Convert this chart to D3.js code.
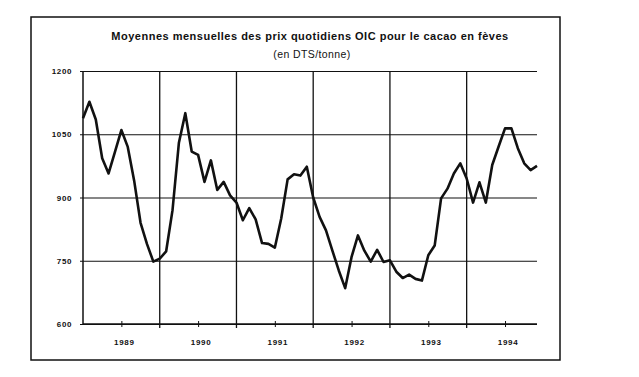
<!DOCTYPE html>
<html>
<head>
<meta charset="utf-8">
<script src="https://cdn.jsdelivr.net/npm/d3@7"></script>
<style>
  body { margin: 0; background: #fff; }
  svg text { font-family: "Liberation Sans", Arial, sans-serif; fill: #111; }
  .axis path { display: none; }
  .axis line { stroke: #111; }
</style>
</head>
<body>
<svg id="chart"></svg>
<script>
// values (DTS/tonne, monthly)
const yearLabels = ['1989', '1990', '1991', '1992', '1993', '1994'];
const prices1989 = [1088, 1127, 1085, 993, 957, 1008, 1060, 1020, 940, 840, 790, 748];
const prices1990 = [755, 772, 870, 1030, 1100, 1009, 1001, 937, 988, 918, 937, 905];
const prices1991 = [888, 846, 875, 848, 792, 790, 781, 850, 943, 955, 952, 973];
const prices1992 = [900, 854, 822, 774, 727, 685, 759, 810, 774, 748, 776, 747];
const prices1993 = [751, 724, 709, 717, 707, 703, 763, 786, 898, 921, 957, 981];
const prices1994 = [945, 888, 936, 888, 977, 1021, 1064, 1064, 1017, 981, 965, 975];
const yTickValues = [600, 750, 900, 1050, 1200];
const titleText = 'Moyennes mensuelles des prix quotidiens OIC pour le cacao en fèves';
const subtitleText = '(en DTS/tonne)';

const prices = [].concat(prices1989, prices1990, prices1991, prices1992, prices1993, prices1994);

const config = {
  width: 639,
  height: 377,
  margin: {top: 71, right: 102, bottom: 53, left: 83}
};
const innerW = config.width - config.margin.left - config.margin.right;
const innerH = config.height - config.margin.top - config.margin.bottom;

const svg = d3.select('#chart')
    .attr('width', config.width)
    .attr('height', config.height);

// outer frame
svg.append('rect')
    .attr('x', 31)
    .attr('y', 17)
    .attr('width', 529)
    .attr('height', 343)
    .attr('fill', 'none')
    .attr('stroke', '#111')
    .attr('stroke-width', 1.5);

// titles
svg.append('text')
    .attr('x', 310)
    .attr('y', 39.5)
    .attr('text-anchor', 'middle')
    .style('font-size', '11px')
    .style('font-weight', 'bold')
    .style('letter-spacing', '0.5px')
    .text(titleText);

svg.append('text')
    .attr('x', 312)
    .attr('y', 58)
    .attr('text-anchor', 'middle')
    .style('font-size', '10.5px')
    .style('letter-spacing', '0.4px')
    .text(subtitleText);

const chart = svg.append('g')
    .attr('transform', `translate(${config.margin.left},${config.margin.top})`);

const xScale = d3.scaleLinear()
    .domain([0, prices.length - 1])
    .range([0, innerW]);

const yScale = d3.scaleLinear()
    .domain([600, 1200])
    .range([innerH, 0]);

// horizontal gridlines
chart.append('g')
    .attr('class', 'axis grid-y')
    .call(d3.axisLeft(yScale).tickValues(yTickValues).tickSize(-innerW).tickFormat(''))
    .selectAll('line')
    .attr('stroke-width', 1.2);

// year separators (extend a bit under the axis)
const yearStarts = d3.range(1, yearLabels.length).map(k => k * 12);
chart.append('g')
    .selectAll('line')
    .data(yearStarts)
    .join('line')
    .attr('x1', d => xScale(d))
    .attr('x2', d => xScale(d))
    .attr('y1', 0)
    .attr('y2', innerH + 4)
    .attr('stroke', '#111')
    .attr('stroke-width', 1.3);

// left axis line + labels
chart.append('line')
    .attr('x1', 0).attr('x2', 0)
    .attr('y1', 0).attr('y2', innerH)
    .attr('stroke', '#111')
    .attr('stroke-width', 1.5);

const yAxisG = chart.append('g')
    .attr('class', 'axis y-axis')
    .call(d3.axisLeft(yScale)
        .tickValues(yTickValues)
        .tickSize(3)
        .tickPadding(8)
        .tickFormat(d3.format('d')));
yAxisG.selectAll('text')
    .style('font-size', '8px')
    .style('font-weight', 'bold')
    .style('letter-spacing', '0.6px');

// bottom axis: crossing ticks in the middle of each year
chart.append('line')
    .attr('x1', 0).attr('x2', innerW)
    .attr('y1', innerH).attr('y2', innerH)
    .attr('stroke', '#111')
    .attr('stroke-width', 1.5);

const midYear = yearLabels.map((d, i) => i * 12 + 6);
const xAxisG = chart.append('g')
    .attr('class', 'axis x-axis')
    .attr('transform', `translate(0,${innerH})`)
    .call(d3.axisBottom(xScale)
        .tickValues(midYear)
        .tickSize(3)
        .tickPadding(12)
        .tickFormat((d, i) => yearLabels[i]));
xAxisG.selectAll('line').attr('y1', -3);
xAxisG.selectAll('text')
    .attr('dx', 2.5)
    .style('font-size', '8px')
    .style('font-weight', 'bold')
    .style('letter-spacing', '0.7px');

// price line
const line = d3.line()
    .x((d, i) => xScale(i))
    .y(d => yScale(d));

chart.append('path')
    .datum(prices)
    .attr('fill', 'none')
    .attr('stroke', '#111')
    .attr('stroke-width', 2.6)
    .attr('stroke-linejoin', 'round')
    .attr('d', line);
</script>
</body>
</html>
